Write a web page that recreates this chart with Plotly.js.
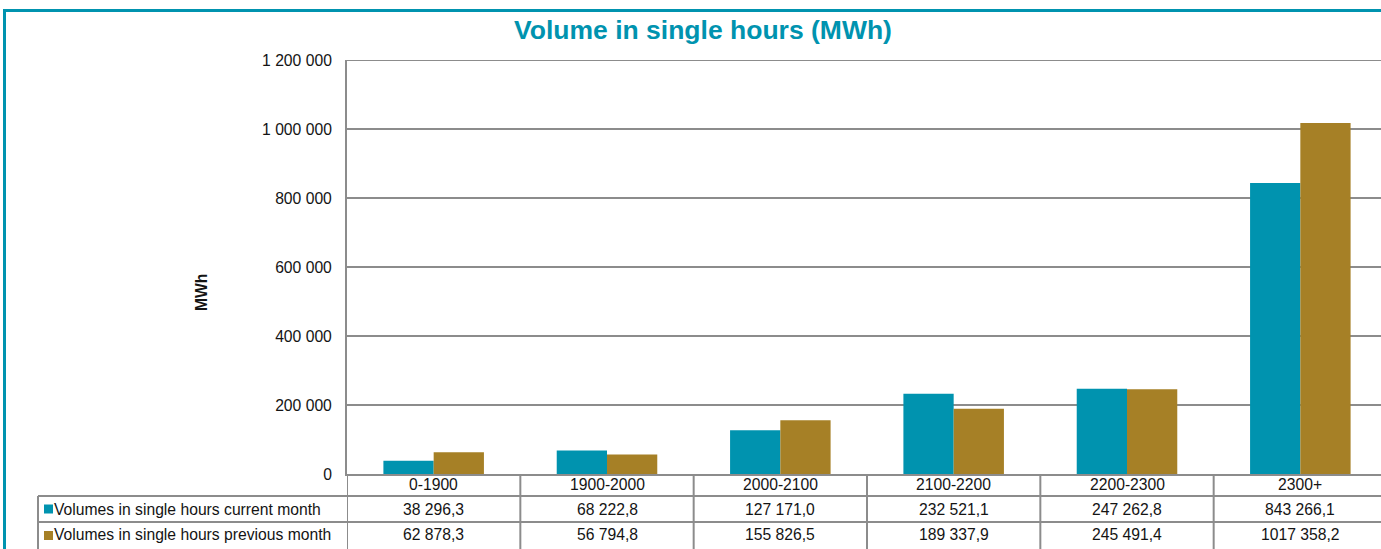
<!DOCTYPE html>
<html>
<head>
<meta charset="utf-8">
<script src="https://cdn.plot.ly/plotly-3.0.1.min.js"></script>
<style>
  html, body { margin: 0; padding: 0; overflow: hidden; background: #fff; }
  #chart { width: 1390px; height: 549px; }
</style>
</head>
<body>
<div id="chart"></div>
<script>
// ---- data ----
const categories = ["0-1900", "1900-2000", "2000-2100", "2100-2200", "2200-2300", "2300+"];
const seriesNames = ["Volumes in single hours current month", "Volumes in single hours previous month"];
const currentMonth = [38296.3, 68222.8, 127171.0, 232521.1, 247262.8, 843266.1];
const previousMonth = [62878.3, 56794.8, 155826.5, 189337.9, 245491.4, 1017358.2];
const yTickValues = [0, 200000, 400000, 600000, 800000, 1000000, 1200000];

// ---- styling ----
const TEAL = "rgb(0,147,175)";
const GOLD = "rgb(166,128,38)";
const GRID = "#8c8c8c";
const FONT = "Arial, 'Liberation Sans', sans-serif";
const TXT = "#141414";
const FS = 15.7;

const W = 1390, H = 549;
const M = { l: 347, r: 3, t: 60, b: 75 };
const PW = W - M.l - M.r, PH = H - M.t - M.b;
const px2x = px => (px - M.l) / PW;
const py2y = py => (H - M.b - py) / PH;

// Excel-like "# ##0,0" number format
function fmt(v) {
  const s = v.toFixed(1);
  const [ip, dp] = s.split(".");
  const n = parseInt(ip, 10);
  let out;
  if (n >= 1000) {
    out = Math.floor(n / 1000) + " " + String(n % 1000).padStart(3, "0");
  } else out = String(n);
  return out + "," + dp;
}

const traces = [
  { type: "bar", name: seriesNames[0], x: categories, y: currentMonth, marker: { color: TEAL }, hoverinfo: "skip" },
  { type: "bar", name: seriesNames[1], x: categories, y: previousMonth, marker: { color: GOLD }, hoverinfo: "skip" }
];

// table geometry (pixels)
const rowCat = [474, 496], rowCur = [496, 522], rowPrev = [522, 549];
const tableLeft = 38;

const shapes = [];
const line = (x0, y0, x1, y1, xref) => shapes.push({
  type: "line", xref: xref || "paper", yref: "paper",
  x0, y0, x1, y1, line: { color: GRID, width: 2 }, layer: "above"
});
// top gridline (max of axis)
shapes.push({
  type: "line", xref: "paper", yref: "y", x0: 0, x1: 1,
  y0: yTickValues[yTickValues.length - 1], y1: yTickValues[yTickValues.length - 1],
  line: { color: GRID, width: 2 }, layer: "below"
});
// horizontal table lines
line(px2x(tableLeft), py2y(rowCur[0]), 1, py2y(rowCur[0]));
line(px2x(tableLeft), py2y(rowPrev[0]), 1, py2y(rowPrev[0]));
// left vertical
line(px2x(tableLeft), py2y(rowCur[0]), px2x(tableLeft), py2y(H + 5));
// category boundaries
for (let k = 0; k <= categories.length; k++) {
  line(k - 0.5, py2y(rowCat[0]), k - 0.5, py2y(H + 5), "x");
}
// legend keys
[TEAL, GOLD].forEach((c, i) => {
  const cy = i === 0 ? (rowCur[0] + rowCur[1]) / 2 : (rowPrev[0] + rowPrev[1]) / 2;
  shapes.push({
    type: "rect", xref: "paper", yref: "paper",
    x0: px2x(44), x1: px2x(53), y0: py2y(cy - 4.5), y1: py2y(cy + 4.5),
    fillcolor: c, line: { width: 0 }, layer: "above"
  });
});
// outer teal border (top & left)
shapes.push({ type: "line", xref: "paper", yref: "paper", x0: px2x(3), x1: px2x(W + 10), y0: py2y(10.5), y1: py2y(10.5), line: { color: TEAL, width: 3 } });
shapes.push({ type: "line", xref: "paper", yref: "paper", x0: px2x(4.5), x1: px2x(4.5), y0: py2y(9), y1: py2y(H + 10), line: { color: TEAL, width: 3 } });

const annotations = [];
const ann = (o) => annotations.push(Object.assign({
  showarrow: false, font: { family: FONT, size: FS, color: TXT }, yref: "paper"
}, o));

categories.forEach((c, i) => {
  ann({ xref: "x", x: c, y: py2y((rowCat[0] + rowCat[1]) / 2), text: c, xanchor: "center", yanchor: "middle" });
  ann({ xref: "x", x: c, y: py2y((rowCur[0] + rowCur[1]) / 2), text: fmt(currentMonth[i]), xanchor: "center", yanchor: "middle" });
  ann({ xref: "x", x: c, y: py2y((rowPrev[0] + rowPrev[1]) / 2 - 1), text: fmt(previousMonth[i]), xanchor: "center", yanchor: "middle" });
});
ann({ xref: "paper", x: px2x(52), y: py2y((rowCur[0] + rowCur[1]) / 2), text: seriesNames[0], xanchor: "left", yanchor: "middle" });
ann({ xref: "paper", x: px2x(52), y: py2y((rowPrev[0] + rowPrev[1]) / 2 - 1), text: seriesNames[1], xanchor: "left", yanchor: "middle" });
// y axis title
ann({ xref: "paper", x: px2x(201), y: py2y(293), text: "<b>MWh</b>", textangle: -90, xanchor: "center", yanchor: "middle" });

const layout = {
  width: W, height: H,
  margin: M,
  paper_bgcolor: "#fff", plot_bgcolor: "#fff",
  separators: ", ",
  showlegend: false,
  barmode: "group", bargap: 0.42, bargroupgap: 0,
  title: {
    text: "<b>Volume in single hours (MWh)</b>",
    font: { family: FONT, size: 26.5, color: TEAL },
    x: 703 / W, xanchor: "center", xref: "container",
    y: 1 - 30 / H, yanchor: "middle", yref: "container"
  },
  xaxis: {
    type: "category", range: [-0.5, categories.length - 0.5],
    showticklabels: false, ticks: "", showgrid: false,
    showline: true, linecolor: GRID, linewidth: 2, zeroline: false, fixedrange: true
  },
  yaxis: {
    range: [0, 1200000], tickvals: yTickValues, tickformat: ",",
    showgrid: true, gridcolor: GRID, gridwidth: 2,
    showline: true, linecolor: GRID, linewidth: 2,
    zeroline: false, ticks: "", ticklabelstandoff: 10,
    tickfont: { family: FONT, size: FS, color: TXT }, fixedrange: true
  },
  shapes, annotations
};

Plotly.newPlot("chart", traces, layout, { displayModeBar: false, staticPlot: true });
</script>
</body>
</html>
